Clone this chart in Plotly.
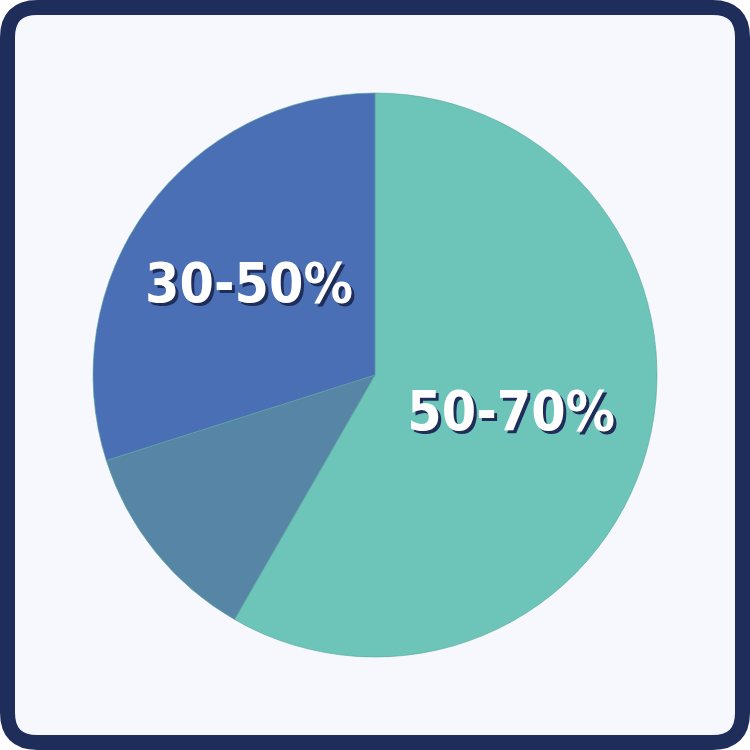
import plotly.graph_objects as go

categories = ["50-70%", "<30%", "30-50%"]
values = [58.3, 11.8, 29.9]
shown_text = ["50-70%", "", "30-50%"]
colors = ["#6dc4b9", "#5785a5", "#4a6fb5"]

fig = go.Figure()
fig.add_trace(go.Pie(
    labels=categories,
    values=values,
    text=shown_text,
    textinfo="text",
    sort=False,
    direction="clockwise",
    rotation=0,
    marker=dict(colors=colors, line=dict(color="#5aa69c", width=0.6)),
    textposition="inside",
    insidetextorientation="horizontal",
    textfont=dict(family="DejaVu Sans Condensed", size=55,
                  color="#ffffff", weight="bold", shadow="3px 3px 0px #1e2d5a"),
    hoverinfo="label+value",
    showlegend=False,
    domain=dict(x=[0.124, 0.876], y=[0.124, 0.876]),
))

r = 30 / 750
a, b = 7.5 / 750, 1 - 7.5 / 750
path = (f"M {a + r},{a} L {b - r},{a} Q {b},{a} {b},{a + r} L {b},{b - r} "
        f"Q {b},{b} {b - r},{b} L {a + r},{b} Q {a},{b} {a},{b - r} "
        f"L {a},{a + r} Q {a},{a} {a + r},{a} Z")
fig.add_shape(type="path", path=path, xref="paper", yref="paper",
              fillcolor="#f7f8fe", line=dict(color="#1e2d5a", width=15),
              layer="below")

fig.update_layout(
    width=750, height=750,
    margin=dict(l=0, r=0, t=0, b=0),
    paper_bgcolor="#ffffff",
    plot_bgcolor="#ffffff",
)

fig.write_html("out.html", config={"displayModeBar": False},
               post_script="document.body.style.margin='0px';")
